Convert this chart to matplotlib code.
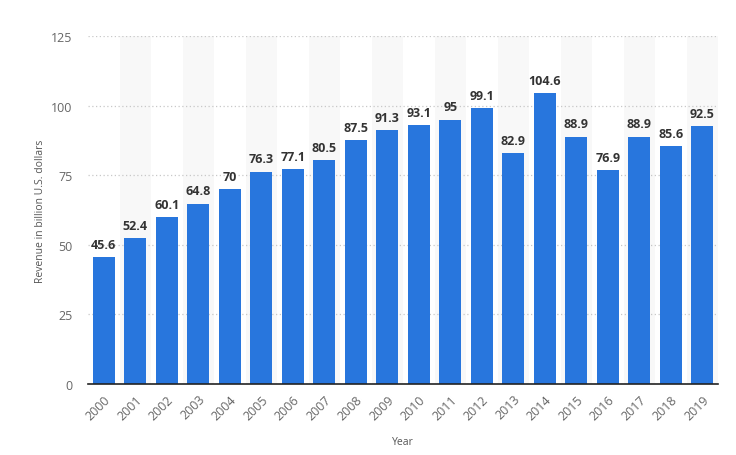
import numpy as np
import matplotlib.pyplot as plt

# Revenue per year (billion U.S. dollars)
years = [str(y) for y in range(2000, 2020)]
revenue = [45.6, 52.4, 60.1, 64.8, 70, 76.3, 77.1, 80.5, 87.5, 91.3,
           93.1, 95, 99.1, 82.9, 104.6, 88.9, 76.9, 88.9, 85.6, 92.5]
yticks = [0, 25, 50, 75, 100, 125]

plt.rcParams['font.family'] = ['Open Sans', 'DejaVu Sans']

fig = plt.figure(figsize=(7.36, 4.56), dpi=100)
ax = fig.add_axes([88 / 736, 71 / 456, 630 / 736, 348 / 456])

x = np.arange(len(years))

# alternating light background bands
for i in x[1::2]:
    ax.axvspan(i - 0.5, i + 0.5, color='#f8f8f8', zorder=0, lw=0)

bars = ax.bar(x, revenue, width=0.7, color='#2876dd', zorder=3)

for xi, v in zip(x, revenue):
    label = f'{v:g}'
    ax.text(xi, v + 2.2, label, ha='center', va='bottom', fontsize=9,
            fontweight='bold', color='#333333', zorder=4)

ax.set_xlim(-0.5, len(years) - 0.5)
ax.set_ylim(0, 125)
ax.set_yticks(yticks)
ax.set_yticklabels([str(t) for t in yticks])
ax.set_xticks(x)
ax.set_xticklabels(years, rotation=45, ha='right', rotation_mode='anchor')

ax.yaxis.grid(True, linestyle=(0, (1, 2)), color='#c8c8c8', lw=0.9, zorder=1)
ax.set_axisbelow(True)

for s in ['top', 'right', 'left']:
    ax.spines[s].set_visible(False)
ax.spines['bottom'].set_color('#222222')
ax.spines['bottom'].set_linewidth(1.2)
ax.spines['bottom'].set_zorder(5)

ax.tick_params(axis='y', length=0, pad=11, labelsize=9, labelcolor='#666666')
ax.tick_params(axis='x', length=0, pad=6, labelsize=9, labelcolor='#666666')

ax.set_ylabel('Revenue in billion U.S. dollars', fontsize=7.5, color='#555555')
ax.yaxis.set_label_coords(-0.066, 0.5)
ax.set_xlabel('Year', fontsize=7.5, color='#555555', labelpad=10)

fig.savefig('out.png', dpi=100)
